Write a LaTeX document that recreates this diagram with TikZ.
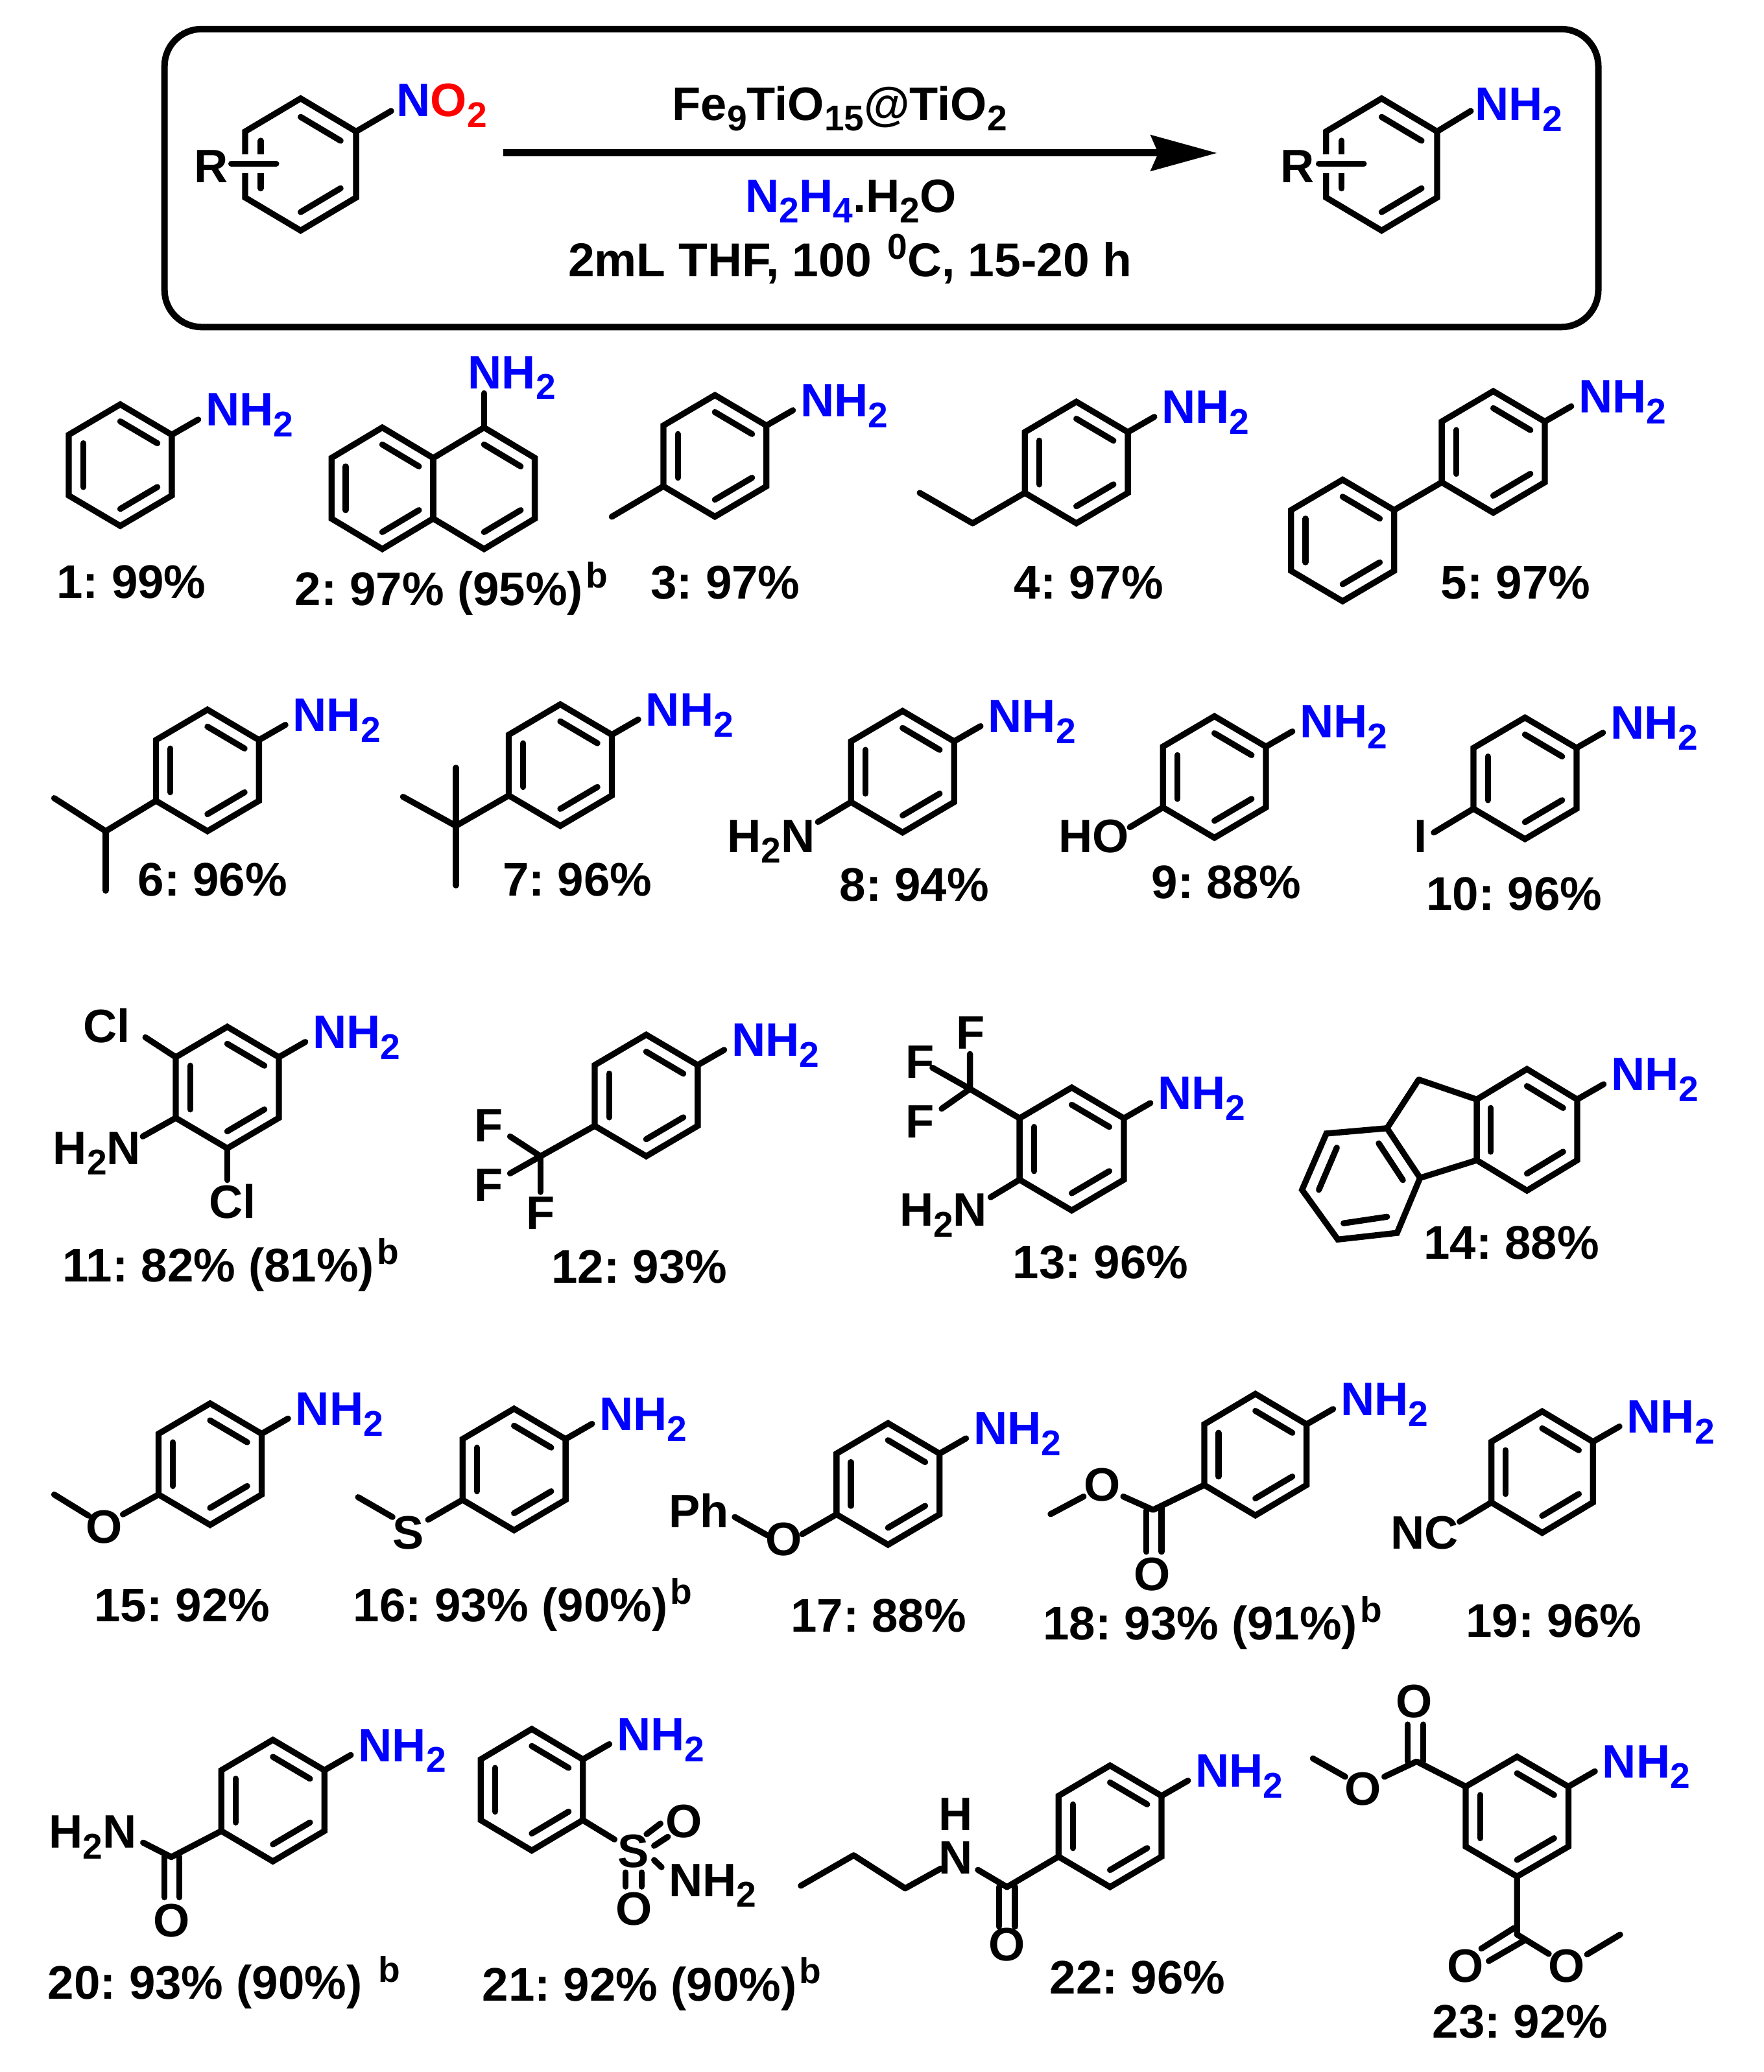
\documentclass[tikz,border=0pt]{standalone}
\usepackage{fontspec}
\setmainfont{Liberation Sans}
\usetikzlibrary{arrows.meta}
\frenchspacing
\newcounter{tc}
\newcommand\sbs[1]{\raisebox{-.23em}{\fontsize{15.4}{15}\selectfont #1}}
\newcommand\sps[1]{\kern1.2pt\raisebox{.37em}{\fontsize{15.4}{15}\selectfont #1}}
\newcommand\NHtwo{\textcolor{blue}{NH\sbs{2}}}
\newcommand\lab[3]{\stepcounter{tc}\node[chemlabel] (t\arabic{tc}) at ({#1-1.8},#2) {#3};}
\newcommand\yld[3]{\stepcounter{tc}\node[yieldlabel] (t\arabic{tc}) at ({#1-.6},#2) {#3};}
\newcommand\ring[5][1,3,5]{%
 \begin{scope}[shift={(#2,#3)},xscale=#4,yscale=#5]
  \coordinate (v1) at (0,-1); \coordinate (v2) at (1,-.5); \coordinate (v3) at (1,.5);
  \coordinate (v4) at (0,1); \coordinate (v5) at (-1,.5); \coordinate (v6) at (-1,-.5);
  \draw[ringline] (v1)--(v2)--(v3)--(v4)--(v5)--(v6)--cycle;
  \foreach \i in {#1} {\draw[bond] ({.72*sin(60*(\i-1))/.866},{-.72*cos(60*(\i-1))}) -- ({.72*sin(60*\i)/.866},{-.72*cos(60*\i)});}
 \end{scope}}
\newcommand\rg[2]{\ring{#1}{#2}{39}{46}}
\newcommand\amine{\draw[bond] (v2)--++(20,-11.5); \stepcounter{tc}\path (v2) ++(25.7,-6.6) node[chemlabel] (t\arabic{tc}) {\NHtwo};}
\tikzset{x=.02cm,y=-.02cm,
 bond/.style={line width=2.6pt,line cap=round,line join=round,black},
 ringline/.style={line width=2.6pt,line join=miter,black},
 chemlabel/.style={anchor=base west,inner sep=0,outer sep=0,font=\bfseries\fontsize{20.2}{24}\selectfont},
 yieldlabel/.style={anchor=base west,inner sep=0,outer sep=0,font=\bfseries\fontsize{20.3}{24}\selectfont}}
\begin{document}
\begin{tikzpicture}
\useasboundingbox (0,0) rectangle (1334.4,1568);
% header
\draw[line width=2.8pt,rounded corners=.56cm] (124.5,22) rectangle (1209.5,247.5);
\ring{227.5}{124.5}{42}{50}
\fill[white] (176,117) rectangle (209,131);
\draw[bond] (175,124)--(209,124);
\draw[bond] (v2)--(296,84);
\lab{148.7}{138}{R}
\lab{302}{88.3}{\textcolor{blue}{N}\textcolor{red}{O\sbs{2}}}
\coordinate (arrowstart) at (381,115.8); \coordinate (arrowend) at (921,115.8);
\draw[line width=3.05pt,-{Stealth[length=1cm,width=.536cm,inset=.11cm]}] (arrowstart)--(arrowend);
\lab{510.6}{90.8}{Fe\sbs{9}TiO\sbs{15}@TiO\sbs{2}}
\lab{566}{160.5}{\textcolor{blue}{N\sbs{2}H\sbs{4}}.H\sbs{2}O}
\stepcounter{tc}\node[chemlabel,font=\bfseries\fontsize{20.45}{24}\selectfont] (t\arabic{tc}) at (430,209.4) {2mL THF, 100 \sps{0}C, 15-20 h};
\ring{1045.5}{124.5}{42}{50}
\fill[white] (994,117) rectangle (1032,131);
\draw[bond] (998,124)--(1032,124);
\draw[bond] (v2)--(1113,84);
\lab{971}{138}{R}
\lab{1118}{91}{\NHtwo}
% row 1
\rg{91}{352} \amine \yld{43.5}{452.7}{1: 99\%}
\ring[1,3]{366.3}{369.5}{38.5}{46} \draw[bond] (v1)--(366.3,297.6);
\lab{356}{294}{\NHtwo}
\ring{289.3}{369.5}{38.5}{46}
\yld{223.8}{458}{2: 97\% (95\%)\sps{b}}
\rg{541}{345} \amine \draw[bond] (v5)--(463,391);
\yld{493}{453}{3: 97\%}
\rg{814.5}{350} \amine \draw[bond] (v5)--(736,396)--(696,373);
\yld{768}{453}{4: 97\%}
\rg{1130}{342} \amine \coordinate (p5) at (v5);
\rg{1016}{409} \draw[bond] (v2)--(p5);
\yld{1091}{453}{5: 97\%}
% row 2
\rg{157}{583} \amine \draw[bond] (v5)--(80,629)--(41,604); \draw[bond] (80,629)--(80,674);
\yld{105}{678}{6: 96\%}
\rg{424}{579} \amine \draw[bond] (v5)--(345,625)--(305,603); \draw[bond] (345,581)--(345,670);
\yld{381}{678}{7: 96\%}
\rg{683}{584} \amine \draw[bond] (v5)--(619,622);
\lab{552}{645}{H\sbs{2}N}
\yld{636}{682}{8: 94\%}
\rg{919}{588} \amine \draw[bond] (v5)--(855,626);
\lab{803}{645}{HO}
\yld{872}{680}{9: 88\%}
\rg{1154}{589} \amine \draw[bond] (v5)--(1085,630);
\lab{1072}{645}{I}
\yld{1080}{689}{10: 96\%}
% row 3
\rg{172}{823} \amine \draw[bond] (v6)--(110,785); \draw[bond] (v5)--(108,860); \draw[bond] (v4)--(172,893);
\lab{65}{789}{Cl}
\lab{42}{881}{H\sbs{2}N}
\lab{160}{922}{Cl}
\yld{48}{970}{11: 82\% (81\%)\sps{b}}
\rg{489}{829} \amine \draw[bond] (v5)--(409,875)--(386,860); \draw[bond] (409,875)--(386,888); \draw[bond] (409,875)--(409,902);
\lab{361}{864}{F}
\lab{361}{909}{F}
\lab{400}{930}{F}
\yld{418}{971}{12: 93\%}
\ring{811}{869.5}{39.5}{46.5} \amine
\draw[bond] (v6)--(734,824)--(734,797.6); \draw[bond] (734,824)--(705.6,808); \draw[bond] (734,824)--(712.6,839); \draw[bond] (v5)--(749.6,906);
\lab{725.5}{794}{F}
\lab{687}{816}{F}
\lab{687}{861}{F}
\lab{682.5}{928}{H\sbs{2}N}
\yld{767}{967.5}{13: 96\%}
\ring{1155.5}{855}{38}{46} \amine
\coordinate (c9) at (1073.6,817);
\coordinate (c4a) at (1049.6,853.8);
\coordinate (c4b) at (1074.6,891.4);
\draw[bond] (v6)--(c9)--(c4a); \draw[bond] (v5)--(c4b);
\draw[ringline] (c4a)--(1003.7,857.8)--(985.3,900.4)--(1012.4,938)--(1057.2,933)--(c4b)--cycle;
\draw[bond] (1043.3,865.2)--(1061.6,893);
\draw[bond] (1011.6,868.5)--(998,900.4);
\draw[bond] (1016.7,925.7)--(1049.6,920.8);
\yld{1078}{952.6}{14: 88\%}
% row 4
\rg{159}{1108} \amine \draw[bond] (v5)--(93,1146); \draw[bond] (67,1147)--(41,1131);
\lab{67}{1168}{O}
\yld{72}{1227}{15: 92\%}
\rg{389}{1112} \amine \draw[bond] (v5)--(324,1150); \draw[bond] (297,1148)--(271,1133);
\lab{299}{1172}{S}
\yld{268}{1227}{16: 93\% (90\%)\sps{b}}
\rg{672}{1123} \amine \draw[bond] (v5)--(607,1161); \draw[bond] (581,1162)--(556,1148);
\lab{581}{1177}{O}
\lab{508}{1156}{Ph}
\yld{599}{1235}{17: 88\%}
\ring{950}{1100.8}{38.8}{46} \amine
\coordinate (c18) at (872.6,1142.6);
\draw[bond] (v5)--(c18)--(850,1132.5); \draw[bond] (820,1132.5)--(795,1145.8);
\draw[bond] (867.4,1143)--(867.4,1174.3); \draw[bond] (879,1141)--(879,1174.3);
\lab{822}{1136}{O}
\lab{860}{1203.8}{O}
\yld{790}{1241}{18: 93\% (91\%)\sps{b}}
\ring{1167}{1114}{38.5}{46} \amine \draw[bond] (v5)--(1104.5,1151.5);
\lab{1054}{1172}{NC}
\yld{1110}{1239}{19: 96\%}
% row 5
\ring{206.5}{1362.6}{39}{46} \amine
\coordinate (c20) at (129.6,1405.3);
\draw[bond] (v5)--(c20)--(108.3,1394.4);
\draw[bond] (124.4,1405)--(124.4,1435.8); \draw[bond] (135.7,1405)--(135.7,1435.8);
\lab{38.8}{1398.5}{H\sbs{2}N}
\lab{117.7}{1465.5}{O}
\yld{36.9}{1513}{20: 93\% (90\%) \sps{b}}
\ring{402.4}{1354.4}{38.7}{46} \amine
\draw[bond] (v3)--(465,1392);
\draw[bond] (489.3,1388)--(499.8,1380); \draw[bond] (495,1396.8)--(505.4,1390);
\draw[bond] (473.5,1417)--(473.5,1427.7); \draw[bond] (485.6,1417)--(485.6,1427.7);
\draw[bond] (495,1407.6)--(500.6,1413);
\lab{469.4}{1413}{S}
\lab{505.6}{1390.8}{O}
\lab{467.6}{1457}{O}
\lab{508}{1435}{NH\sbs{2}}
\yld{365.6}{1514}{21: 92\% (90\%)\sps{b}}
\rg{840}{1382} \amine
\coordinate (c22) at (762,1428);
\draw[bond] (v5)--(c22)--(740,1415);
\draw[bond] (756,1428)--(756,1458); \draw[bond] (768,1428)--(768,1458);
\draw[bond] (712,1414)--(685,1429)--(646,1404)--(606,1427);
\lab{712}{1418}{N}
\lab{712}{1385}{H}
\lab{750}{1484}{O}
\yld{795}{1509}{22: 96\%}
\ring{1148}{1374.7}{38.9}{45.5} \amine
\coordinate (c23a) at (1072,1333);
\coordinate (c23b) at (1148,1463.9);
\draw[bond] (v6)--(c23a)--(1047.6,1344.5); \draw[bond] (1018,1344.5)--(993.5,1330.7);
\draw[bond] (1065.3,1305)--(1065.3,1333); \draw[bond] (1076.9,1305)--(1076.9,1333);
\draw[bond] (v4)--(c23b)--(1172,1478.6); \draw[bond] (1201,1479)--(1226,1464);
\draw[bond] (1145.8,1459)--(1121,1474.6); \draw[bond] (1152.9,1468.8)--(1126.6,1484);
\lab{1058}{1299.7}{O}
\lab{1019.6}{1366}{O}
\lab{1096.7}{1499.8}{O}
\lab{1173.7}{1499.8}{O}
\yld{1084.6}{1542}{23: 92\%}
\end{tikzpicture}
\end{document}
